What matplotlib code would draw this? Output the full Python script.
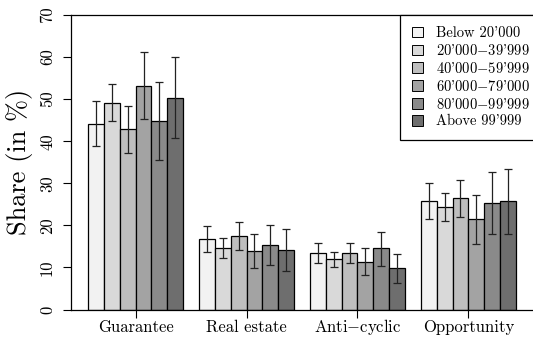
import matplotlib
matplotlib.use("Agg")
import matplotlib.pyplot as plt
import numpy as np

plt.rcParams['font.family'] = ['cmr10']
plt.rcParams['mathtext.fontset'] = 'cm'
plt.rcParams['axes.formatter.use_mathtext'] = True

categories = ["Guarantee", "Real estate", "Anti$-$cyclic", "Opportunity"]
income_groups = ["Below 20'000", "20'000$-$39'999", "40'000$-$59'999",
                 "60'000$-$79'000", "80'000$-$99'999", "Above 99'999"]

# share (in %) per category, one list per income group
below_20k = [44.2, 16.7, 13.4, 25.7]
k20_40 = [49.2, 14.6, 11.9, 24.4]
k40_60 = [42.8, 17.4, 13.4, 26.5]
k60_80 = [53.2, 13.9, 11.4, 21.5]
k80_100 = [44.9, 15.4, 14.5, 25.4]
above_100k = [50.3, 14.2, 9.8, 25.7]

# error bar upper / lower limits
upper = [
    [49.6, 19.8, 15.8, 30.0],
    [53.6, 16.9, 13.6, 27.7],
    [48.3, 20.7, 15.8, 30.8],
    [61.2, 18.0, 14.6, 27.3],
    [54.0, 20.2, 18.5, 32.7],
    [60.0, 19.2, 13.1, 33.5],
]
lower = [
    [38.8, 13.7, 11.0, 21.4],
    [44.8, 12.2, 10.1, 21.1],
    [37.2, 14.1, 11.0, 22.1],
    [45.2, 9.8, 8.1, 15.5],
    [35.6, 10.5, 10.4, 18.0],
    [40.7, 9.2, 6.4, 17.9],
]

series = [below_20k, k20_40, k40_60, k60_80, k80_100, above_100k]
colors = ['#f2f2f2', '#d9d9d9', '#bebebe', '#a3a3a3', '#8a8a8a', '#6e6e6e']

W, H = 533, 345
fig = plt.figure(figsize=(W / 100, H / 100), dpi=100)
ax = fig.add_axes([71 / W, (H - 309.5) / H, (W - 71) / W, (309.5 - 15) / H])

n_groups = len(categories)
n_series = len(series)
for i, vals in enumerate(series):
    lefts = np.array([1 + (n_series + 1) * g + i for g in range(n_groups)], dtype=float)
    ax.bar(lefts, vals, width=1.0, align='edge', color=colors[i],
           edgecolor='black', linewidth=0.9, label=income_groups[i], zorder=2)
    centers = lefts + 0.5
    vals_a = np.array(vals)
    yerr = np.vstack([vals_a - np.array(lower[i]), np.array(upper[i]) - vals_a])
    ax.errorbar(centers, vals_a, yerr=yerr, fmt='none', ecolor='#222222',
                elinewidth=0.9, capsize=3.0, capthick=0.9, zorder=3)

ax.set_xlim(-0.08, 29.08)
ax.set_ylim(0, 70)

group_centers = [1 + (n_series + 1) * g + n_series / 2 for g in range(n_groups)]
ax.set_xticks(group_centers)
ax.set_xticklabels(categories, fontsize=12, va='baseline')
ax.set_yticks(range(0, 71, 10))
ax.set_yticklabels([str(v) for v in range(0, 71, 10)], fontsize=12,
                   rotation=90, va='center')
ax.tick_params(axis='both', direction='out', length=5.5, width=0.8)
ax.tick_params(axis='y', pad=6)
ax.tick_params(axis='x', pad=10.5)

ax.spines['right'].set_visible(False)
for s in ['left', 'top', 'bottom']:
    ax.spines[s].set_linewidth(0.9)

ax.set_ylabel("Share (in %)", fontsize=19, labelpad=5)

leg = ax.legend(loc='upper right', bbox_to_anchor=(1 + 8 / 462, 1),
                fontsize=10.5, frameon=True, fancybox=False,
                edgecolor='black', framealpha=1, borderaxespad=0,
                handlelength=0.75, handleheight=0.75, handletextpad=0.9,
                labelspacing=0.2, borderpad=0.78)
leg.get_frame().set_linewidth(0.9)
for h in leg.legend_handles:
    h.set_linewidth(0.7)

fig.savefig("out.png", dpi=100)
